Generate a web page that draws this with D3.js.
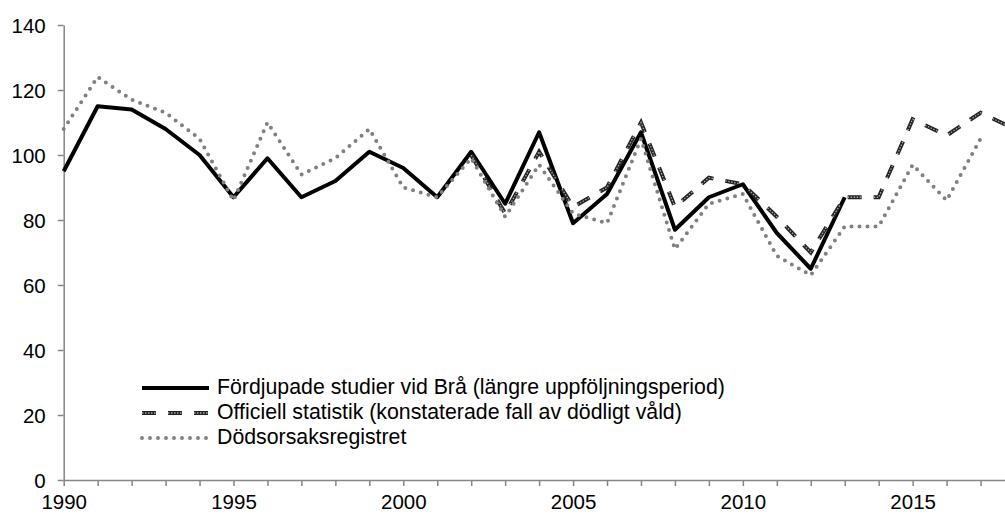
<!DOCTYPE html>
<html lang="sv">

<head>
    <meta charset="UTF-8">
    <title>Dödligt våld 1990–2017</title>
    <style type="text/css">
        body {
            margin: 0;
            padding: 0;
            background-color: #ffffff;
        }

        svg {
            display: block;
            font-family: "Liberation Sans", Arial, sans-serif;
        }

        .axis path,
        .axis line {
            stroke: #868686;
            stroke-width: 1.5;
        }

        .axis text {
            font-size: 20.5px;
            fill: #000;
        }
    </style>
</head>

<body>
    <script src="https://d3js.org/d3.v7.min.js"></script>
    <script type="text/javascript">
        var width = 1005,
            height = 514;

        // data
        var years = d3.range(1990, 2019);
        var braStudies = [95, 115, 114, 108, 100, 87, 99, 87, 92, 101, 96, 87, 101, 85, 107, 79, 88, 107, 77, 87, 91, 76, 65, 87,
            null, null, null, null, null];
        var officialStats = [null, null, null, null, null, null, null, null, null, null, null, null, 100, 82, 101, 84, 90, 110, 84, 93, 91, 81, 70, 87,
            87, 111, 106, 113, 108];
        var causeOfDeath = [108, 124, 117, 113, 105, 86, 110, 94, 99, 108, 90, 87, 99, 81, 97, 82, 79, 105, 71, 85, 88, 69, 63, 78,
            78, 97, 86, 105, null];
        var seriesNames = ["Fördjupade studier vid Brå (längre uppföljningsperiod)",
            "Officiell statistik (konstaterade fall av dödligt våld)",
            "Dödsorsaksregistret"];
        var yTicks = [0, 20, 40, 60, 80, 100, 120, 140];
        var xTicks = [1990, 1995, 2000, 2005, 2010, 2015];

        var x = d3.scaleLinear().domain([1990, 2017.72]).range([63.7, 1005]);
        var y = d3.scaleLinear().domain([0, 140]).range([480, 25]);

        var svg = d3.select("body").append("svg")
            .attr("width", width)
            .attr("height", height);

        // axes
        svg.append("g")
            .attr("class", "axis")
            .attr("transform", "translate(" + x.range()[0] + ",0)")
            .call(d3.axisLeft(y).tickValues(yTicks).tickSize(6).tickSizeOuter(0).tickPadding(12))
            .call(function (g) { g.selectAll("text").attr("dy", "0.36em"); });

        svg.append("g")
            .attr("class", "axis")
            .attr("transform", "translate(0," + y(0) + ")")
            .call(d3.axisBottom(x).tickValues(d3.range(1990, 2018)).tickSize(6).tickSizeOuter(0).tickPadding(8)
                .tickFormat(function (d) { return xTicks.indexOf(d) >= 0 ? d : ""; }));

        var line = d3.line()
            .defined(function (d) { return d[1] != null; })
            .x(function (d) { return x(d[0]); })
            .y(function (d) { return y(d[1]); });

        function pairs(values) {
            return years.map(function (yr, i) { return [yr, values[i]]; });
        }

        var plot = svg.append("g");

        plot.append("path")
            .attr("d", line(pairs(braStudies)))
            .attr("fill", "none")
            .attr("stroke", "#000")
            .attr("stroke-width", 4)
            .attr("stroke-linejoin", "round");

        // dashed series: dark dash with a light core
        plot.append("path")
            .attr("d", line(pairs(officialStats)))
            .attr("fill", "none")
            .attr("stroke", "#222")
            .attr("stroke-width", 4)
            .attr("stroke-dasharray", "14,12");
        plot.append("path")
            .attr("d", line(pairs(officialStats)))
            .attr("fill", "none")
            .attr("stroke", "#aaa")
            .attr("stroke-width", 1.3)
            .attr("stroke-dasharray", "1.5,1.5,1.5,1.5,1.5,1.5,1.5,1.5,1.5,12.5");

        plot.append("path")
            .attr("d", line(pairs(causeOfDeath)))
            .attr("fill", "none")
            .attr("stroke", "#808080")
            .attr("stroke-width", 4)
            .attr("stroke-linecap", "round")
            .attr("stroke-dasharray", "0,8");

        // legend
        var legend = svg.append("g").attr("transform", "translate(142,388)");
        var rowGap = 25;

        seriesNames.forEach(function (name, i) {
            var row = legend.append("g").attr("transform", "translate(0," + i * rowGap + ")");
            if (i === 0) {
                row.append("line").attr("x1", 0).attr("x2", 67)
                    .attr("stroke", "#000").attr("stroke-width", 4);
            } else if (i === 1) {
                row.append("line").attr("x1", 0).attr("x2", 67)
                    .attr("stroke", "#222").attr("stroke-width", 4).attr("stroke-dasharray", "14,12");
                row.append("line").attr("x1", 0).attr("x2", 67)
                    .attr("stroke", "#aaa").attr("stroke-width", 1.3)
                    .attr("stroke-dasharray", "1.5,1.5,1.5,1.5,1.5,1.5,1.5,1.5,1.5,12.5");
            } else {
                row.append("line").attr("x1", 0).attr("x2", 67)
                    .attr("stroke", "#808080").attr("stroke-width", 4)
                    .attr("stroke-linecap", "round").attr("stroke-dasharray", "0,8");
            }
            row.append("text")
                .attr("x", 75)
                .attr("dy", "0.3em")
                .attr("font-size", 21.3)
                .text(name);
        });
    </script>
</body>

</html>
